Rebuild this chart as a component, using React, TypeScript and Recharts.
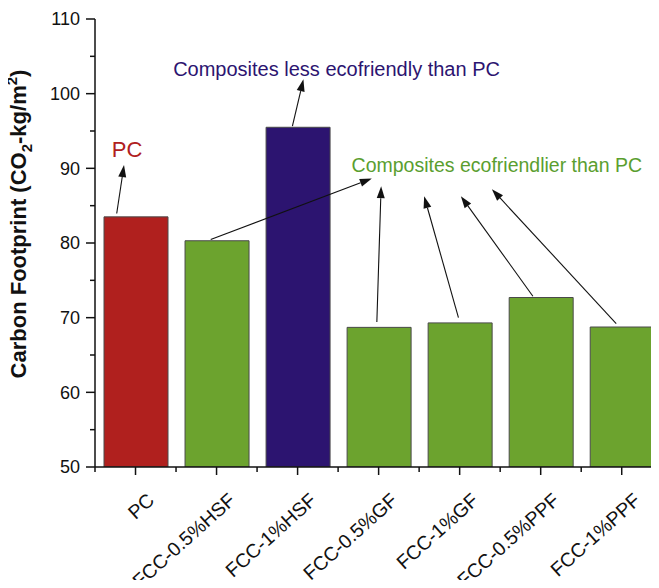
import { BarChart, Bar, XAxis, YAxis, Cell, ReferenceLine, ReferenceDot } from "recharts";

const categories = ["PC", "FCC-0.5%HSF", "FCC-1%HSF", "FCC-0.5%GF", "FCC-1%GF", "FCC-0.5%PPF", "FCC-1%PPF"];
const footprint = [83.5, 80.3, 95.5, 68.7, 69.3, 72.7, 68.75];
const barColors = ["#b0201e", "#6ca32e", "#2c1470", "#6ca32e", "#6ca32e", "#6ca32e", "#6ca32e"];
const yTicks = [50, 55, 60, 65, 70, 75, 80, 85, 90, 95, 100, 105, 110];
const xTicks = [0.5, 1, 1.5, 2, 2.5, 3, 3.5, 4, 4.5, 5, 5.5, 6, 6.5, 7];

// arrows: [x1, y1, x2, y2] in data units, tip at (x2, y2)
const arrows = [
  [0.768, 83.95, 0.858, 90.43],
  [2.936, 95.66, 3.072, 101.92],
  [1.928, 80.47, 3.916, 88.65],
  [3.978, 69.42, 4.031, 87.61],
  [4.985, 70.01, 4.562, 86.27],
  [5.904, 72.87, 5.015, 86.27],
  [6.932, 69.21, 5.398, 87.21],
];

const notes = [
  { x: 0.895, y: 91.55, text: "PC", color: "#b0201e", size: 22 },
  { x: 3.481, y: 102.3, text: "Composites less ecofriendly than PC", color: "#2c1470", size: 20 },
  { x: 5.459, y: 89.53, text: "Composites ecofriendlier than PC", color: "#5a9e2f", size: 19.5 },
];

const data = categories.map((c, i) => ({ pos: i + 1, name: c, value: footprint[i] }));
const FONT = "'Liberation Sans', Arial, sans-serif";

function Arrow(props: any) {
  const { x1, y1, x2, y2 } = props;
  const dx = x2 - x1, dy = y2 - y1;
  const len = Math.sqrt(dx * dx + dy * dy);
  const ux = dx / len, uy = dy / len;
  const hl = 12, hw = 4;
  const bx = x2 - ux * hl, by = y2 - uy * hl;
  const pts = `${x2},${y2} ${bx - uy * hw},${by + ux * hw} ${bx + uy * hw},${by - ux * hw}`;
  return (
    <g>
      <line x1={x1} y1={y1} x2={bx} y2={by} stroke="#111" strokeWidth={1.1} />
      <polygon points={pts} fill="#111" />
    </g>
  );
}

function XTick(props: any) {
  const { x, y, payload } = props;
  const v = payload.value;
  const major = Number.isInteger(v);
  const tx = x + 20, ty = y + 35;
  return (
    <g>
      <line x1={x} y1={y} x2={x} y2={y + (major ? 8 : 5)} stroke="#111" strokeWidth={1.5} />
      {major && (
        <text x={tx} y={ty} textAnchor="end" fontSize={19.5} fill="#111" fontFamily={FONT}
          transform={`rotate(-42, ${tx}, ${ty})`}>
          {categories[v - 1]}
        </text>
      )}
    </g>
  );
}

function YTick(props: any) {
  const { x, y, payload } = props;
  const v = payload.value;
  const major = v % 10 === 0;
  return (
    <g>
      <line x1={x} y1={y} x2={x - (major ? 9 : 5)} y2={y} stroke="#111" strokeWidth={1.5} />
      {major && (
        <text x={x - 15} y={y} dy="0.36em" textAnchor="end" fontSize={18} fill="#111" fontFamily={FONT}>
          {v}
        </text>
      )}
    </g>
  );
}

function YLabel(props: any) {
  const vb = props.viewBox;
  const cx = vb.x + 26;
  const cy = vb.y + 205;
  return (
    <text x={cx} y={cy} textAnchor="middle" fontSize={22} fontWeight="bold" fill="#111" fontFamily={FONT}
      transform={`rotate(-90, ${cx}, ${cy})`}>
      Carbon Footprint (CO<tspan dy={6} fontSize={15}>2</tspan>
      <tspan dy={-6}>-kg/m</tspan>
      <tspan dy={-9} fontSize={15}>2</tspan>
      <tspan dy={9}>)</tspan>
    </text>
  );
}

export default function App() {
  return (
    <div style={{ margin: -8 }}>
      <BarChart width={659} height={588} data={data} margin={{ top: 19, right: 0, bottom: 0, left: 0 }}>
        <XAxis dataKey="pos" type="number" domain={[0.5, 7.46]} allowDataOverflow ticks={xTicks}
          interval={0} tickLine={false} tickSize={0} tickMargin={0} height={121}
          axisLine={{ stroke: "#111", strokeWidth: 1.5 }} tick={<XTick />} />
        <YAxis type="number" domain={[50, 110]} ticks={yTicks} interval={0} allowDataOverflow
          tickLine={false} tickSize={0} tickMargin={0} width={95}
          axisLine={{ stroke: "#111", strokeWidth: 1.5 }} tick={<YTick />} label={{ content: <YLabel /> }} />
        <Bar dataKey="value" barSize={64} stroke="#4a4a4a" strokeWidth={1} isAnimationActive={false}>
          {data.map((d, i) => <Cell key={d.name} fill={barColors[i]} />)}
        </Bar>
        {arrows.map((a, i) => (
          <ReferenceLine key={i} segment={[{ x: a[0], y: a[1] }, { x: a[2], y: a[3] }]} shape={<Arrow />} />
        ))}
        {notes.map((n) => (
          <ReferenceDot key={n.text} x={n.x} y={n.y} r={0}
            shape={(p: any) => (
              <text x={p.cx} y={p.cy} textAnchor="middle" fontSize={n.size} fill={n.color} fontFamily={FONT}>
                {n.text}
              </text>
            )} />
        ))}
      </BarChart>
    </div>
  );
}
